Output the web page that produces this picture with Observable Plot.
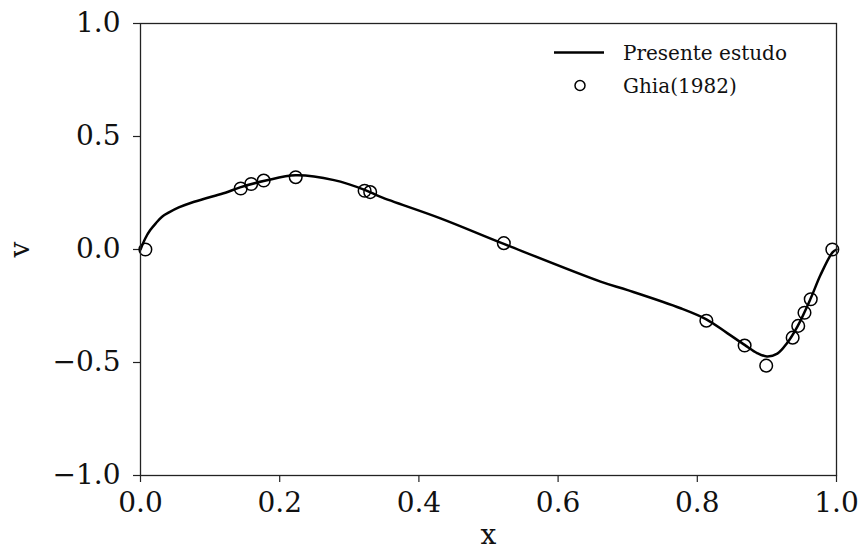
<!DOCTYPE html>
<html>
<head>
<meta charset="utf-8">
<script src="https://cdn.jsdelivr.net/npm/d3@7"></script>
<script src="https://cdn.jsdelivr.net/npm/@observablehq/plot@0.6"></script>
<style>
  html, body { margin: 0; padding: 0; background: #fff; }
  #wrap { position: relative; width: 864px; height: 555px; }
  #legend { position: absolute; left: 550px; top: 36px; font-family: "DejaVu Serif", serif; font-size: 20px; color: #111; }
  #legend .row { display: flex; align-items: center; height: 33px; }
  #legend svg { width: 60px; height: 33px; margin-right: 13px; }
</style>
</head>
<body>
<div id="wrap"><div id="chart"></div>
<div id="legend"></div></div>
<script>
// Ghia (1982) reference points
const ghiaX = [0.007, 0.144, 0.159, 0.177, 0.223, 0.322, 0.330, 0.522, 0.813, 0.868, 0.899, 0.937, 0.945, 0.954, 0.963, 0.994];
const ghiaV = [0.000, 0.270, 0.290, 0.305, 0.320, 0.260, 0.254, 0.028, -0.315, -0.425, -0.514, -0.390, -0.338, -0.280, -0.220, 0.000];

// Present study curve
const lineX = [0.000, 0.007, 0.014, 0.022, 0.031, 0.041, 0.055, 0.074, 0.098, 0.122, 0.143, 0.180, 0.223, 0.278, 0.323, 0.345, 0.431, 0.522, 0.661, 0.700, 0.776, 0.813, 0.843, 0.868, 0.886, 0.900, 0.915, 0.929, 0.944, 0.963, 0.977, 0.994, 1.000];
const lineV = [0.000, 0.050, 0.086, 0.116, 0.145, 0.164, 0.186, 0.208, 0.230, 0.251, 0.275, 0.305, 0.328, 0.307, 0.263, 0.233, 0.138, 0.025, -0.142, -0.180, -0.260, -0.309, -0.370, -0.422, -0.458, -0.473, -0.461, -0.414, -0.340, -0.216, -0.113, -0.014, 0.000];

const xTicks = [0, 0.2, 0.4, 0.6, 0.8, 1.0];
const yTicks = [-1.0, -0.5, 0.0, 0.5, 1.0];
const xLabel = "x";
const yLabel = "v";
const legendLabels = ["Presente estudo", "Ghia(1982)"];

const ghia = ghiaX.map((x, i) => ({x, v: ghiaV[i]}));
const curve = lineX.map((x, i) => ({x, v: lineV[i]}));

const fmt = d3.format(".1f");

const chart = Plot.plot({
  width: 864,
  height: 555,
  marginLeft: 140,
  marginRight: 28,
  marginTop: 23,
  marginBottom: 80,
  x: {domain: [0, 1]},
  y: {domain: [-1, 1]},
  style: {fontFamily: "DejaVu Serif", fontSize: "28px", background: "white", color: "#111"},
  marks: [
    Plot.axisX({ticks: xTicks, tickFormat: fmt, tickSize: 7, tickPadding: 10, label: null, stroke: "#222", strokeWidth: 1.2}),
    Plot.axisY({ticks: yTicks, tickFormat: fmt, tickSize: 7, tickPadding: 13, label: null, stroke: "#222", strokeWidth: 1.2}),
    Plot.line(curve, {x: "x", y: "v", curve: "catmull-rom", stroke: "black", strokeWidth: 2.5}),
    Plot.dot(ghia, {x: "x", y: "v", r: 6.3, stroke: "black", strokeWidth: 1.5, fill: "none"}),
    Plot.frame({stroke: "#222", strokeWidth: 1.3}),
    Plot.text([xLabel], {frameAnchor: "bottom", dy: 68, text: d => d, fontSize: 28})
  ]
});
document.getElementById("chart").appendChild(chart);

// rotated y-axis label
d3.select(chart).append("text")
  .attr("transform", "translate(29,249.5) rotate(-90)")
  .attr("text-anchor", "middle")
  .attr("font-family", "DejaVu Serif")
  .attr("font-size", 28)
  .attr("fill", "#111")
  .text(yLabel);

const legend = document.getElementById("legend");
legend.innerHTML =
  `<div class="row"><svg viewBox="0 0 60 33"><line x1="4" x2="54" y1="16.5" y2="16.5" stroke="black" stroke-width="2.5"/></svg><span>${legendLabels[0]}</span></div>` +
  `<div class="row"><svg viewBox="0 0 60 33"><circle cx="30" cy="16.5" r="5" fill="none" stroke="black" stroke-width="1.5"/></svg><span>${legendLabels[1]}</span></div>`;
</script>
</body>
</html>
